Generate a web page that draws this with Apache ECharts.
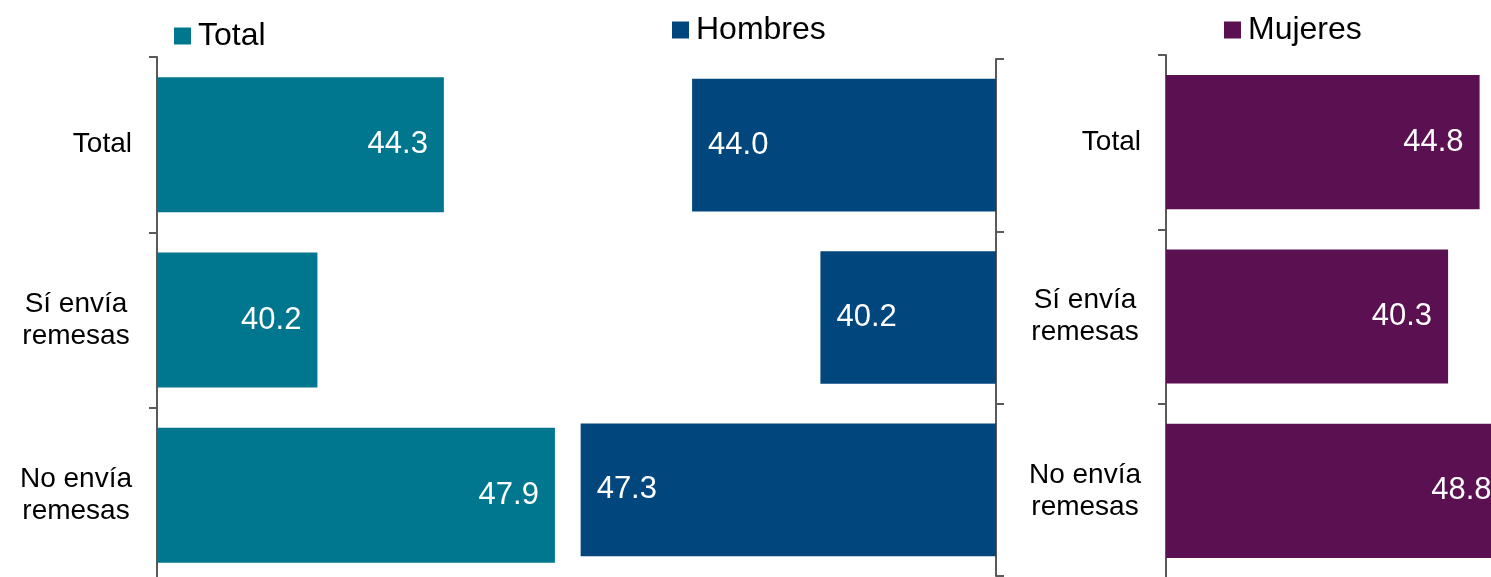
<!DOCTYPE html>
<html>
<head>
<meta charset="utf-8">
<script src="https://cdn.jsdelivr.net/npm/echarts@6/dist/echarts.min.js"></script>
<style>
  html, body { margin: 0; padding: 0; background: #fff; }
  #chart { width: 1491px; height: 577px; }
</style>
</head>
<body>
<div id="chart"></div>
<script>
// Datos
var categories = ['Total', 'Sí envía\nremesas', 'No envía\nremesas'];
var totalValues = [44.3, 40.2, 47.9];
var hombresValues = [44.0, 40.2, 47.3];
var mujeresValues = [44.8, 40.3, 48.8];

var FONT = '"Liberation Sans", Arial, sans-serif';
var COLORS = { Total: '#00778F', Hombres: '#02467E', Mujeres: '#5B1052' };

var chart = echarts.init(document.getElementById('chart'));

function valueAxis(idx, min, max, inverse) {
    return {
        type: 'value', gridIndex: idx, min: min, max: max, inverse: inverse,
        show: false
    };
}

// líneas de las etiquetas largas centradas entre sí
function catLabel(value) {
    var s = String(value);
    if (s.indexOf('\n') < 0) return s;
    return s.split('\n').map(function (line) { return '{c|' + line + '}'; }).join('\n');
}

function catAxis(idx, pos, showLabels) {
    return {
        type: 'category', gridIndex: idx, data: categories, inverse: true,
        position: pos,
        axisLine: { lineStyle: { color: '#595959', width: 2 } },
        axisTick: { show: true, length: 8, lineStyle: { color: '#595959', width: 2 } },
        axisLabel: {
            show: showLabels, color: '#000', fontFamily: FONT, fontSize: 28,
            lineHeight: 32, margin: 25, align: 'right',
            formatter: catLabel,
            rich: {
                c: { width: 112, align: 'center', color: '#000', fontFamily: FONT, fontSize: 28, lineHeight: 32 }
            }
        }
    };
}

function barSeries(name, idx, data, pos) {
    return {
        name: name, type: 'bar', xAxisIndex: idx, yAxisIndex: idx,
        data: data, barCategoryGap: '23%',
        itemStyle: { color: COLORS[name] },
        label: {
            show: true, position: pos, distance: 16, color: '#fff',
            fontFamily: FONT, fontSize: 31,
            formatter: function (p) { return p.value.toFixed(1); }
        }
    };
}

function legend(name, left, top) {
    return {
        data: [name], left: left, top: top, itemWidth: 17, itemHeight: 17,
        itemGap: 0, icon: 'rect', selectedMode: false,
        textStyle: { color: '#000', fontFamily: FONT, fontSize: 32, padding: [0, 0, 0, 2] }
    };
}

var option = {
    backgroundColor: '#fff',
    animation: false,
    legend: [
        legend('Total', 169, 15),
        legend('Hombres', 667, 9),
        legend('Mujeres', 1219, 9)
    ],
    grid: [
        { left: 157, top: 57, width: 401, height: 526, outerBoundsMode: 'none' },
        { left: 557, top: 59, width: 439, height: 517, outerBoundsMode: 'none' },
        { left: 1166, top: 55, width: 350, height: 523, outerBoundsMode: 'none' }
    ],
    xAxis: [
        valueAxis(0, 35, 48, false),
        valueAxis(1, 35, 48, true),
        valueAxis(2, 0, 50, false)
    ],
    yAxis: [
        catAxis(0, 'left', true),
        catAxis(1, 'right', false),
        catAxis(2, 'left', true)
    ],
    series: [
        barSeries('Total', 0, totalValues, 'insideRight'),
        barSeries('Hombres', 1, hombresValues, 'insideLeft'),
        barSeries('Mujeres', 2, mujeresValues, 'insideRight')
    ]
};

chart.setOption(option);
</script>
</body>
</html>
